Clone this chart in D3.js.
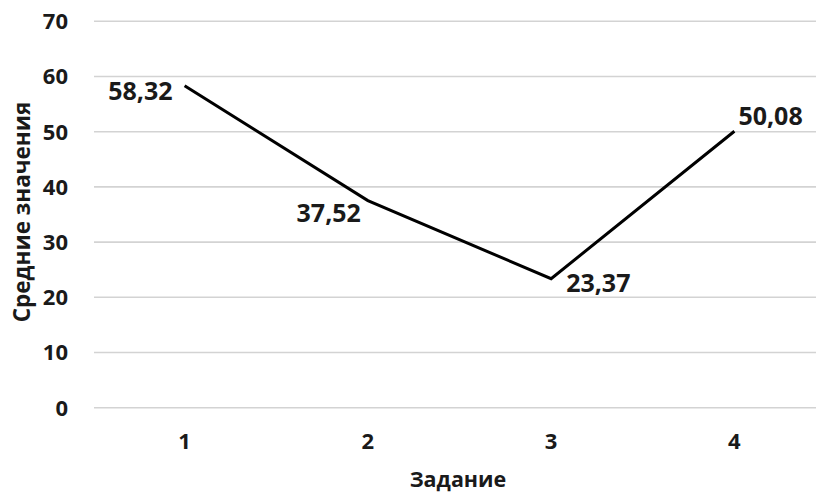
<!DOCTYPE html>
<html>
<head>
<meta charset="utf-8">
<script src="https://cdn.jsdelivr.net/npm/d3@7"></script>
<style>
  body { margin: 0; background: #fff; }
  svg { display: block; }
</style>
</head>
<body>
<script>
// данные
const tasks = ["1", "2", "3", "4"];
const means = [58.32, 37.52, 23.37, 50.08];
const yTicks = [0, 10, 20, 30, 40, 50, 60, 70];

const width = 816, height = 494;
const font = "'Open Sans', 'Noto Sans', sans-serif";

// размещение подписей: сторона и смещение от точки
const labelPlace = [
  { anchor: "end", dx: -12, dy: 14.5 },
  { anchor: "end", dx: -7, dy: 21.5 },
  { anchor: "start", dx: 15, dy: 13 },
  { anchor: "start", dx: 4, dy: -6 }
];

const x = d3.scalePoint().domain(tasks).range([184.6, 734.4]);
const y = d3.scaleLinear().domain([0, 70]).range([407.7, 21.3]);

const svg = d3.create("svg")
  .attr("width", width)
  .attr("height", height)
  .attr("font-family", font)
  .attr("font-weight", "bold");

// сетка
svg.append("g")
  .selectAll("line")
  .data(yTicks)
  .join("line")
  .attr("x1", 94)
  .attr("x2", width)
  .attr("y1", d => y(d))
  .attr("y2", d => y(d))
  .attr("stroke", "#d3d3d3")
  .attr("stroke-width", 1.6);

// подписи оси Y
svg.append("g")
  .selectAll("text")
  .data(yTicks)
  .join("text")
  .attr("x", 68)
  .attr("y", d => y(d))
  .attr("dy", "0.36em")
  .attr("text-anchor", "end")
  .attr("font-size", 22)
  .attr("fill", "#1a1a1a")
  .text(d => d);

// подписи оси X
svg.append("g")
  .selectAll("text")
  .data(tasks)
  .join("text")
  .attr("x", d => x(d))
  .attr("y", 449)
  .attr("text-anchor", "middle")
  .attr("font-size", 22)
  .attr("fill", "#1a1a1a")
  .text(d => d);

// линия
const pts = tasks.map((t, i) => [x(t), y(means[i])]);
svg.append("path")
  .attr("d", d3.line()(pts))
  .attr("fill", "none")
  .attr("stroke", "#000")
  .attr("stroke-width", 3)
  .attr("stroke-linejoin", "miter");

// подписи значений
svg.append("g")
  .selectAll("text")
  .data(means)
  .join("text")
  .attr("x", (d, i) => pts[i][0] + labelPlace[i].dx)
  .attr("y", (d, i) => pts[i][1] + labelPlace[i].dy)
  .attr("text-anchor", (d, i) => labelPlace[i].anchor)
  .attr("font-size", 25)
  .attr("fill", "#1a1a1a")
  .text(d => d.toFixed(2).replace(".", ","));

// заголовки осей
svg.append("text")
  .attr("transform", "translate(30,212) rotate(-90)")
  .attr("text-anchor", "middle")
  .attr("font-size", 22.5)
  .attr("fill", "#1a1a1a")
  .text("Средние значения");

svg.append("text")
  .attr("x", 458)
  .attr("y", 487)
  .attr("text-anchor", "middle")
  .attr("font-size", 21.5)
  .attr("fill", "#1a1a1a")
  .text("Задание");

d3.select("body").append(() => svg.node());
</script>
</body>
</html>
